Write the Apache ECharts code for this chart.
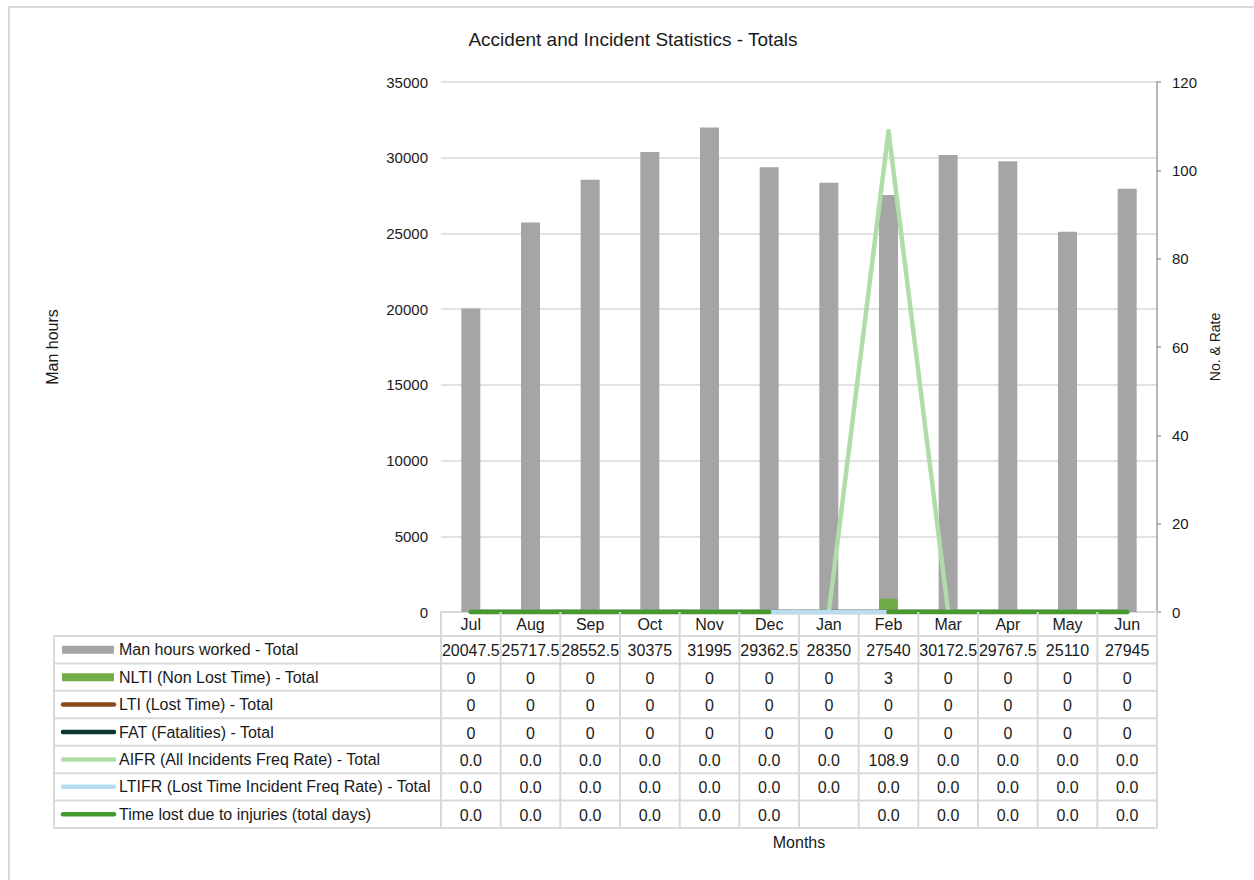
<!DOCTYPE html>
<html>
<head>
<meta charset="utf-8">
<script src="https://cdn.jsdelivr.net/npm/echarts@6/dist/echarts.min.js"></script>
<style>
  html, body { margin: 0; padding: 0; background: #fff; }
  #chart { width: 1254px; height: 880px; }
</style>
</head>
<body>
<div id="chart"></div>
<script>
// Monthly totals
const months = ['Jul', 'Aug', 'Sep', 'Oct', 'Nov', 'Dec', 'Jan', 'Feb', 'Mar', 'Apr', 'May', 'Jun'];
const manHours = [20047.5, 25717.5, 28552.5, 30375, 31995, 29362.5, 28350, 27540, 30172.5, 29767.5, 25110, 27945];
const nlti = [0, 0, 0, 0, 0, 0, 0, 3, 0, 0, 0, 0];
const lti = [0, 0, 0, 0, 0, 0, 0, 0, 0, 0, 0, 0];
const fat = [0, 0, 0, 0, 0, 0, 0, 0, 0, 0, 0, 0];
const aifr = [0, 0, 0, 0, 0, 0, 0, 108.9, 0, 0, 0, 0];
const ltifr = [0, 0, 0, 0, 0, 0, 0, 0, 0, 0, 0, 0];
const timeLost = [0, 0, 0, 0, 0, 0, null, 0, 0, 0, 0, 0];

const leftTicks = [0, 5000, 10000, 15000, 20000, 25000, 30000, 35000];
const rightTicks = [0, 20, 40, 60, 80, 100, 120];

const FONT = '"Liberation Sans", Arial, sans-serif';
const GRID_LINE = '#d9d9d9';
const TEXT = '#1a1a1a';

// Rows of the data table: label, key style, values, formatter
const tableRows = [
  { name: 'Man hours worked - Total', color: '#a5a5a5', key: 'rect', values: manHours, fmt: v => String(v) },
  { name: 'NLTI (Non Lost Time) - Total', color: '#70ad47', key: 'rect', values: nlti, fmt: v => String(v) },
  { name: 'LTI (Lost Time) - Total', color: '#8b4a1c', key: 'line', values: lti, fmt: v => String(v) },
  { name: 'FAT (Fatalities) - Total', color: '#0c3630', key: 'line', values: fat, fmt: v => String(v) },
  { name: 'AIFR (All Incidents Freq Rate) - Total', color: '#b0dca8', key: 'line', values: aifr, fmt: v => v.toFixed(1) },
  { name: 'LTIFR (Lost Time Incident Freq Rate) - Total', color: '#b8dcf2', key: 'line', values: ltifr, fmt: v => v.toFixed(1) },
  { name: 'Time lost due to injuries (total days)', color: '#46992c', key: 'line', values: timeLost, fmt: v => (v === null ? '' : v.toFixed(1)) }
];

const chart = echarts.init(document.getElementById('chart'), null, { renderer: 'svg' });

function lineSeries(row) {
  return {
    name: row.name,
    type: 'line',
    yAxisIndex: 1,
    data: row.values,
    symbol: 'none',
    connectNulls: false,
    lineStyle: { color: row.color, width: 4.5, cap: 'round', join: 'round' },
    itemStyle: { color: row.color },
    z: 3
  };
}

const option = {
  animation: false,
  backgroundColor: '#fff',
  textStyle: { fontFamily: FONT },
  title: {
    text: 'Accident and Incident Statistics - Totals',
    left: 628,
    top: 25,
    textAlign: 'center',
    textStyle: { fontFamily: FONT, fontSize: 19, fontWeight: 'normal', color: TEXT }
  },
  grid: { left: 441, right: 97, top: 82, bottom: 268, containLabel: false },
  xAxis: {
    type: 'category',
    data: months,
    name: 'Months',
    nameLocation: 'middle',
    nameGap: 222,
    nameTextStyle: { fontFamily: FONT, fontSize: 16, color: TEXT },
    axisLine: { show: true, lineStyle: { color: GRID_LINE, width: 2 } },
    axisTick: { show: false },
    axisLabel: { margin: 4, fontFamily: FONT, fontSize: 16, color: TEXT, interval: 0 }
  },
  yAxis: [
    {
      type: 'value',
      min: leftTicks[0],
      max: leftTicks[leftTicks.length - 1],
      interval: leftTicks[1] - leftTicks[0],
      name: 'Man hours',
      nameLocation: 'middle',
      nameRotate: 90,
      nameGap: 381,
      nameTextStyle: { fontFamily: FONT, fontSize: 16, color: TEXT },
      axisLine: { show: false },
      axisTick: { show: false },
      axisLabel: { margin: 13, fontFamily: FONT, fontSize: 15, color: TEXT, formatter: v => String(v) },
      splitLine: { show: true, lineStyle: { color: GRID_LINE, width: 1.5 } }
    },
    {
      type: 'value',
      position: 'right',
      min: rightTicks[0],
      max: rightTicks[rightTicks.length - 1],
      interval: rightTicks[1] - rightTicks[0],
      name: 'No. & Rate',
      nameLocation: 'middle',
      nameRotate: 90,
      nameGap: 50,
      nameTextStyle: { fontFamily: FONT, fontSize: 14, color: TEXT },
      axisLine: { show: true, lineStyle: { color: '#a0a0a0', width: 1.5 } },
      axisTick: { show: true, length: 4, lineStyle: { color: '#a0a0a0', width: 1.5 } },
      axisLabel: { margin: 15, fontFamily: FONT, fontSize: 15, color: TEXT },
      splitLine: { show: false }
    }
  ],
  series: [
    {
      name: tableRows[0].name,
      type: 'bar',
      yAxisIndex: 0,
      data: manHours,
      barWidth: 19,
      barGap: '-100%',
      itemStyle: { color: '#a5a5a5' },
      z: 2
    },
    {
      name: tableRows[1].name,
      type: 'bar',
      yAxisIndex: 1,
      data: nlti,
      barWidth: 19,
      barGap: '-100%',
      itemStyle: { color: '#70ad47' },
      z: 2
    },
    lineSeries(tableRows[2]),
    lineSeries(tableRows[3]),
    lineSeries(tableRows[4]),
    lineSeries(tableRows[5]),
    lineSeries(tableRows[6])
  ]
};

chart.setOption(option);

// Data table under the plot, positioned from the category axis scale
function buildTable() {
  const centers = months.map((m, i) => chart.convertToPixel({ xAxisIndex: 0 }, i));
  const colW = centers[1] - centers[0];
  const plotLeft = centers[0] - colW / 2;
  const plotRight = centers[centers.length - 1] + colW / 2;
  const axisY = chart.convertToPixel({ yAxisIndex: 0 }, 0);
  const headerH = 24;
  const rowH = 27.43;
  const tableTop = axisY + headerH;
  const tableLeft = 54;
  const tableBottom = tableTop + rowH * tableRows.length;
  const lineStyle = { stroke: GRID_LINE, lineWidth: 2 };
  const els = [];

  // outer frame of the chart area
  els.push({ type: 'rect', shape: { x: 9, y: 7, width: 1300, height: 1000 }, style: { fill: 'none', stroke: GRID_LINE, lineWidth: 2 }, silent: true, z: 0 });

  // vertical separators through header and body
  for (let i = 0; i <= months.length; i++) {
    const x = plotLeft + i * colW;
    els.push({ type: 'line', shape: { x1: x, y1: axisY, x2: x, y2: tableBottom }, style: lineStyle, z: 10 });
  }
  // left border of the label column
  els.push({ type: 'line', shape: { x1: tableLeft, y1: tableTop, x2: tableLeft, y2: tableBottom }, style: lineStyle, z: 10 });
  // horizontal row separators
  for (let r = 0; r <= tableRows.length; r++) {
    const y = tableTop + r * rowH;
    els.push({ type: 'line', shape: { x1: tableLeft, y1: y, x2: plotRight, y2: y }, style: lineStyle, z: 10 });
  }

  tableRows.forEach((row, r) => {
    const cy = tableTop + r * rowH + rowH / 2;
    if (row.key === 'rect') {
      els.push({ type: 'rect', shape: { x: 62, y: cy - 4, width: 52, height: 8 }, style: { fill: row.color }, z: 11 });
    } else {
      els.push({ type: 'line', shape: { x1: 63, y1: cy, x2: 114, y2: cy }, style: { stroke: row.color, lineWidth: 4.5, lineCap: 'round' }, z: 11 });
    }
    els.push({
      type: 'text', x: 119, y: cy, z: 11,
      style: { text: row.name, fontFamily: FONT, fontSize: 16, fill: TEXT, textVerticalAlign: 'middle', verticalAlign: 'middle', textAlign: 'left', align: 'left' }
    });
    row.values.forEach((v, i) => {
      els.push({
        type: 'text', x: centers[i], y: cy + 1, z: 11,
        style: { text: row.fmt(v), fontFamily: FONT, fontSize: 16, fill: TEXT, textAlign: 'center', align: 'center', textVerticalAlign: 'middle', verticalAlign: 'middle' }
      });
    });
  });

  chart.setOption({ graphic: { elements: els } });
}

buildTable();
</script>
</body>
</html>
